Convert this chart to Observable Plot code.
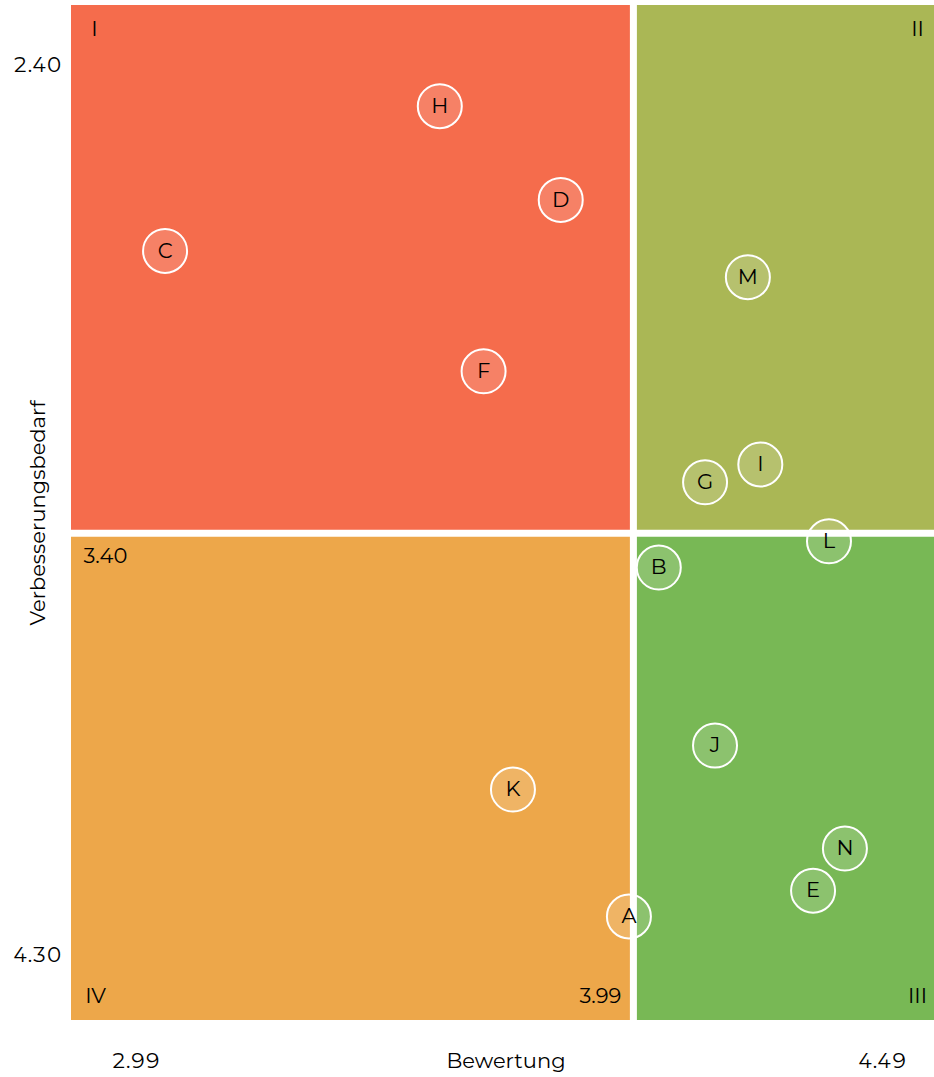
<!DOCTYPE html>
<html>
<head>
<meta charset="utf-8">
<script src="https://cdn.jsdelivr.net/npm/d3@7"></script>
<script src="https://cdn.jsdelivr.net/npm/@observablehq/plot@0.6"></script>
<style>
  html, body { margin: 0; padding: 0; background: #fff; }
  #chart svg { display: block; }
</style>
</head>
<body>
<div id="chart"></div>
<script>
// Data
const labels = ["H", "D", "C", "M", "F", "I", "G", "L", "B", "J", "K", "N", "E", "A"];
const bewertung = [3.601, 3.844, 3.049, 4.220, 3.689, 4.245, 4.134, 4.383, 4.041, 4.154, 3.748, 4.415, 4.351, 3.981];
const verbesserungsbedarf = [2.488, 2.688, 2.797, 2.853, 3.054, 3.253, 3.291, 3.417, 3.473, 3.853, 3.947, 4.073, 4.163, 4.218];
const xTicks = [2.99, 4.49];
const yTicks = [2.40, 4.30];
const xSplit = 3.99;
const ySplit = 3.40;
const quadrantNames = ["I", "II", "III", "IV"];
const quadrantColors = ["#F56C4C", "#AAB755", "#78B855", "#EDA74A"];

const xDomain = [2.861, 4.595];
const yDomain = [2.273, 4.440];

const points = labels.map((l, i) => ({label: l, x: bewertung[i], y: verbesserungsbedarf[i]}));

const quads = [
  {name: quadrantNames[0], x1: xDomain[0], x2: xSplit, y1: yDomain[0], y2: ySplit, fill: quadrantColors[0]},
  {name: quadrantNames[1], x1: xSplit, x2: xDomain[1], y1: yDomain[0], y2: ySplit, fill: quadrantColors[1]},
  {name: quadrantNames[2], x1: xSplit, x2: xDomain[1], y1: ySplit, y2: yDomain[1], fill: quadrantColors[2]},
  {name: quadrantNames[3], x1: xDomain[0], x2: xSplit, y1: ySplit, y2: yDomain[1], fill: quadrantColors[3]}
];

const FONT = "Montserrat, 'DejaVu Sans', sans-serif";
const FS = 21;

const chart = Plot.plot({
  width: 934,
  height: 1077,
  marginLeft: 71,
  marginRight: 0,
  marginTop: 5,
  marginBottom: 57,
  style: {fontFamily: FONT, fontSize: FS + "px", color: "#000", background: "#fff"},
  x: {domain: xDomain, axis: null},
  y: {domain: yDomain, reverse: true, axis: null},
  marks: [
    Plot.rect(quads, {x1: "x1", x2: "x2", y1: "y1", y2: "y2", fill: "fill"}),
    Plot.dot(points, {x: "x", y: "y", r: 22, fill: "white", fillOpacity: 0.15, stroke: "white", strokeWidth: 2}),
    Plot.ruleX([xSplit], {stroke: "white", strokeWidth: 7}),
    Plot.ruleY([ySplit], {stroke: "white", strokeWidth: 7}),
    Plot.text(points, {x: "x", y: "y", text: "label", fill: "black", fontSize: FS}),
    // quadrant numerals
    Plot.text([quads[0]], {x: xDomain[0], y: yDomain[0], text: "name", dx: 23, dy: 24, fontSize: FS, fill: "black"}),
    Plot.text([quads[1]], {x: xDomain[1], y: yDomain[0], text: "name", dx: -17, dy: 24, fontSize: FS, fill: "black"}),
    Plot.text([quads[2]], {x: xDomain[1], y: yDomain[1], text: "name", dx: -17, dy: -24, fontSize: FS, fill: "black"}),
    Plot.text([quads[3]], {x: xDomain[0], y: yDomain[1], text: "name", dx: 24, dy: -24, fontSize: FS, fill: "black"}),
    // split value labels
    Plot.text([ySplit], {x: xDomain[0], y: d => d, text: d => d.toFixed(2), textAnchor: "start", dx: 12, dy: 23, fontSize: FS, fill: "black"}),
    Plot.text([xSplit], {x: d => d, y: yDomain[1], text: d => d.toFixed(2), textAnchor: "end", dx: -12, dy: -24, fontSize: FS, fill: "black"}),
    // axes
    Plot.axisX(xTicks, {tickSize: 0, tickPadding: 33, tickFormat: d => d.toFixed(2), fontSize: FS, label: null}),
    Plot.axisY(yTicks, {tickSize: 0, tickPadding: 10, tickFormat: d => d.toFixed(2), fontSize: FS, label: null}),
    Plot.text(["Bewertung"], {frameAnchor: "bottom", dx: 3, dy: 47, text: d => d, fontSize: FS, fill: "black"}),
    Plot.text(["Verbesserungsbedarf"], {frameAnchor: "left", textAnchor: "middle", dx: -33, rotate: -90, text: d => d, fontSize: FS, fill: "black"})
  ]
});

document.getElementById("chart").appendChild(chart);
</script>
</body>
</html>
